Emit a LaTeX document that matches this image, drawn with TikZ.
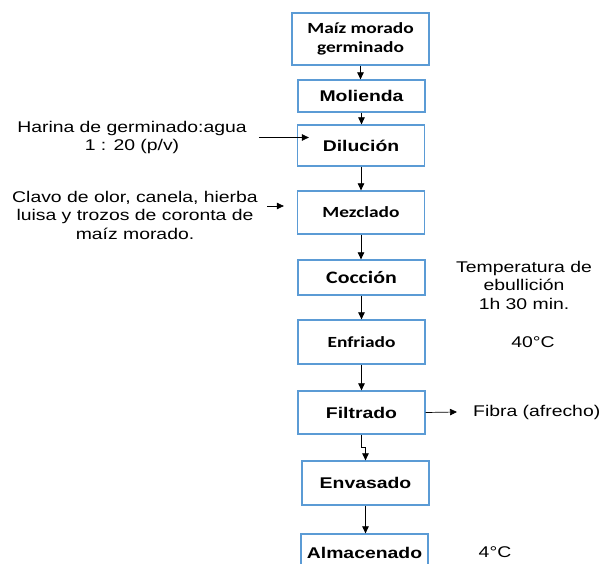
\documentclass[tikz,border=0pt]{standalone}
\usepackage{fontspec}
\setmainfont[FakeStretch=1.25]{Liberation Sans}
\newfontfamily\calibri[FakeStretch=1.25]{Carlito}
\usetikzlibrary{arrows.meta}
\definecolor{azulcaja}{RGB}{91,155,213}
\tikzset{
  caja/.style={draw=azulcaja, line width=1.3pt, rectangle, inner sep=0pt, align=center,
    minimum width=127, font=\fontsize{15.5}{19}\selectfont\bfseries},
  cajacal/.style={caja, font=\calibri\fontsize{15.5}{19}\selectfont\bfseries},
  nota/.style={inner sep=0pt, align=center, font=\fontsize{15.5}{18.5}\selectfont},
  flecha/.style={-{Triangle[length=7pt,width=6.5pt]}, line width=0.7pt}
}
\begin{document}
\begin{tikzpicture}[x=1pt, y=-1pt]
    \useasboundingbox (0,0) rectangle (602,564);
    \clip (0,0) rectangle (602,564);

    % Etapas del proceso
    \node[cajacal, minimum width=137, minimum height=52] (maiz) at (360.5,39) {Maíz morado\\germinado};
    \node[caja, minimum height=32] (molienda) at (361.5,96) {Molienda};
    \node[caja, minimum height=41] (dilucion) at (361,145.5) {Dilución};
    \node[cajacal, minimum height=43] (mezclado) at (361,212.5) {Mezclado};
    \node[cajacal, minimum height=35, font=\calibri\fontsize{17.5}{19}\selectfont\bfseries] (coccion) at (361.5,277.5) {Cocción};
    \node[cajacal, minimum height=44] (enfriado) at (361.5,342) {Enfriado};
    \node[caja, minimum height=43] (filtrado) at (361.5,412.5) {Filtrado};
    \node[caja, minimum height=44] (envasado) at (365.5,483) {Envasado};
    \node[caja, minimum height=38] (almacenado) at (364.5,553) {Almacenado};

    % Flechas entre etapas
    \foreach \a/\b in {maiz/molienda, molienda/dilucion, dilucion/mezclado, mezclado/coccion,
                       coccion/enfriado, enfriado/filtrado, envasado/almacenado} {
        \draw[flecha] (\a.south) -- (\a.south |- \b.north);
    }
    \draw[flecha] (filtrado.south) -- ++(0,13) -| (envasado.north);

    % Entradas
    \node[nota] (harina) at (132,137.5) {Harina de germinado:agua\\1 : 20 (p/v)};
    \draw[flecha] ([xshift=12]harina.east) -- ([xshift=12]harina.east -| dilucion.west);

    \node[nota] (clavo) at (135,215) {Clavo de olor, canela, hierba\\luisa y trozos de coronta de\\maíz morado.};
    \coordinate (clavoin) at (267,206);
    \draw[flecha] (clavoin) -- ([xshift=-13]clavoin -| mezclado.west);

    % Condiciones y salidas
    \node[nota] (temperatura) at (524,285) {Temperatura de\\ebullición\\1h 30 min.};
    \node[nota] (cuarenta) at (533,342) {40°C};
    \node[nota, anchor=west] (fibra) at (473,412) {Fibra (afrecho)};
    \draw[flecha] (filtrado.east) -- ([xshift=-16]fibra.west);
    \node[nota] (cuatro) at (495,552) {4°C};
\end{tikzpicture}
\end{document}
